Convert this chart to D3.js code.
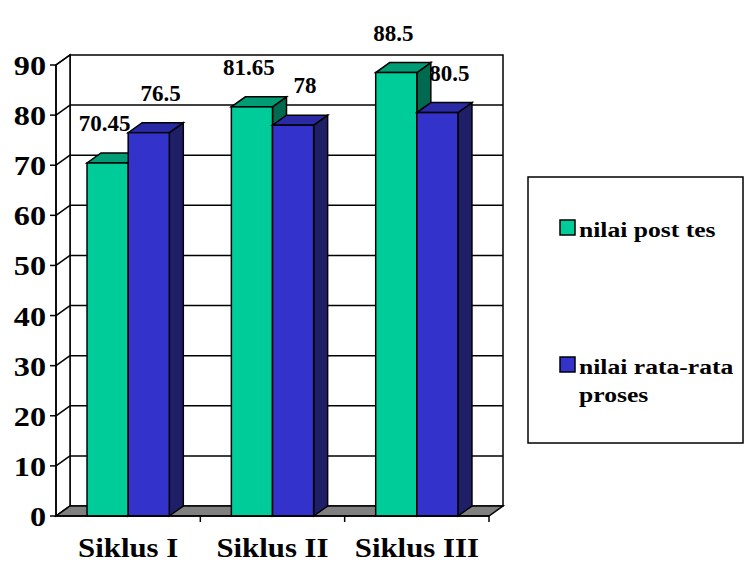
<!DOCTYPE html>
<html>
<head>
<meta charset="utf-8">
<style>
  body { margin: 0; background: #fff; }
  text { font-family: "Liberation Serif", "Times New Roman", serif; font-weight: bold; fill: #000; }
</style>
</head>
<body>
<svg id="chart" width="746" height="562"></svg>
<script src="https://cdn.jsdelivr.net/npm/d3@7"></script>
<script>
var categories = ['Siklus I', 'Siklus II', 'Siklus III'];
var postTes = [70.45, 81.65, 88.5];
var rataProses = [76.5, 78, 80.5];
var seriesNames = ['nilai post tes', 'nilai rata-rata proses'];
var yTicks = [0, 10, 20, 30, 40, 50, 60, 70, 80, 90];

var svg = d3.select('#chart');

// 3d depth offset
var dx = 14, dy = -10;
var plotLeft = 56, plotRight = 489, plotBottom = 516, plotTop = 65;

var x = d3.scaleBand().domain(categories).range([plotLeft, plotRight]);
var groupW = x.bandwidth() * 0.57;
var xs = d3.scaleBand().domain([0, 1]).range([0, groupW]);
var y = d3.scaleLinear().domain([0, 90]).range([plotBottom, plotTop]);

var colors = [
  {front: '#00cc99', top: '#009c76', side: '#006a50'},
  {front: '#3333cc', top: '#2a2aa6', side: '#1f1f68'}
];
// excel pushes the labels of the back series a little to the right
var labelShift = [-3, 12];

function pts(a) { return a.map(function(p) { return p.join(','); }).join(' '); }

// back wall
svg.append('rect')
  .attr('x', plotLeft + dx).attr('y', plotTop + dy)
  .attr('width', plotRight - plotLeft).attr('height', plotBottom - plotTop)
  .attr('fill', '#fff').attr('stroke', '#000').attr('stroke-width', 1.5);

// grid lines on back wall
svg.selectAll('.grid').data(yTicks.slice(1, -1)).enter().append('line')
  .attr('x1', plotLeft + dx).attr('x2', plotRight + dx)
  .attr('y1', function(d) { return y(d) + dy; })
  .attr('y2', function(d) { return y(d) + dy; })
  .attr('stroke', '#000').attr('stroke-width', 1.5);

// side wall
svg.append('polygon')
  .attr('points', pts([[plotLeft, plotBottom], [plotLeft + dx, plotBottom + dy], [plotLeft + dx, plotTop + dy], [plotLeft, plotTop]]))
  .attr('fill', '#fff').attr('stroke', '#000').attr('stroke-width', 1.5);

svg.selectAll('.diag').data(yTicks).enter().append('line')
  .attr('x1', plotLeft).attr('x2', plotLeft + dx)
  .attr('y1', function(d) { return y(d); })
  .attr('y2', function(d) { return y(d) + dy; })
  .attr('stroke', '#000').attr('stroke-width', 1.5);

// floor
svg.append('polygon')
  .attr('points', pts([[plotLeft, plotBottom], [plotRight, plotBottom], [plotRight + dx, plotBottom + dy], [plotLeft + dx, plotBottom + dy]]))
  .attr('fill', '#808080').attr('stroke', '#000').attr('stroke-width', 1.5);

// bars
var series = [postTes, rataProses];
categories.forEach(function(c, i) {
  var g0 = x(c) + (x.bandwidth() - groupW) / 2;
  series.forEach(function(vals, s) {
    var x0 = g0 + xs(s), x1 = x0 + xs.bandwidth();
    var yt = y(vals[i]);
    var col = colors[s];
    svg.append('polygon')
      .attr('points', pts([[x1, plotBottom], [x1 + dx, plotBottom + dy], [x1 + dx, yt + dy], [x1, yt]]))
      .attr('fill', col.side).attr('stroke', '#000').attr('stroke-width', 1.5);
    svg.append('polygon')
      .attr('points', pts([[x0, yt], [x1, yt], [x1 + dx, yt + dy], [x0 + dx, yt + dy]]))
      .attr('fill', col.top).attr('stroke', '#000').attr('stroke-width', 1.5);
    svg.append('rect')
      .attr('x', x0).attr('y', yt).attr('width', x1 - x0).attr('height', plotBottom - yt)
      .attr('fill', col.front).attr('stroke', '#000').attr('stroke-width', 1.5);
  });
});

// value labels
categories.forEach(function(c, i) {
  var g0 = x(c) + (x.bandwidth() - groupW) / 2;
  series.forEach(function(vals, s) {
    svg.append('text')
      .attr('x', g0 + xs(s) + xs.bandwidth() / 2 + labelShift[s])
      .attr('y', y(vals[i]) - 32)
      .attr('text-anchor', 'middle')
      .style('font-size', '23px')
      .text(vals[i]);
  });
});

// y axis
svg.append('line').attr('x1', plotLeft).attr('x2', plotLeft).attr('y1', plotTop).attr('y2', plotBottom)
  .attr('stroke', '#000').attr('stroke-width', 1.5);
svg.append('line').attr('x1', plotLeft).attr('x2', plotRight).attr('y1', plotBottom).attr('y2', plotBottom)
  .attr('stroke', '#000').attr('stroke-width', 1.5);
svg.selectAll('.ytick').data(yTicks).enter().append('line')
  .attr('x1', plotLeft - 6).attr('x2', plotLeft)
  .attr('y1', function(d) { return y(d); }).attr('y2', function(d) { return y(d); })
  .attr('stroke', '#000').attr('stroke-width', 1.5);
svg.selectAll('.ylab').data(yTicks).enter().append('text')
  .attr('transform', function(d) { return 'translate(46,' + (y(d) + 10) + ') scale(1.15,1)'; })
  .attr('text-anchor', 'end')
  .style('font-size', '28px')
  .text(function(d) { return d; });

// x axis ticks + labels
svg.selectAll('.xtick').data(categories).enter().append('line')
  .attr('x1', function(d) { return x(d) + x.bandwidth(); })
  .attr('x2', function(d) { return x(d) + x.bandwidth(); })
  .attr('y1', plotBottom).attr('y2', plotBottom + 6)
  .attr('stroke', '#000').attr('stroke-width', 1.5);
svg.selectAll('.xlab').data(categories).enter().append('text')
  .attr('transform', function(d) { return 'translate(' + (x(d) + x.bandwidth() / 2) + ',557) scale(1.1,1)'; })
  .attr('text-anchor', 'middle')
  .style('font-size', '28px')
  .text(function(d) { return d; });

// legend
var lg = svg.append('g');
lg.append('rect').attr('x', 528).attr('y', 177).attr('width', 215).attr('height', 266)
  .attr('fill', '#fff').attr('stroke', '#000').attr('stroke-width', 1.5);
var legendRows = [[seriesNames[0]], ['nilai rata-rata', 'proses']];
var legendY = [220, 357];
legendRows.forEach(function(lines, s) {
  lg.append('rect').attr('x', 560).attr('y', legendY[s]).attr('width', 15).attr('height', 15)
    .attr('fill', colors[s].front).attr('stroke', '#000').attr('stroke-width', 1.5);
  lines.forEach(function(t, k) {
    lg.append('text')
      .attr('transform', 'translate(579,' + (legendY[s] + 17 + k * 28) + ') scale(1.22,1)')
      .style('font-size', '21px')
      .text(t);
  });
});
</script>
</body>
</html>
